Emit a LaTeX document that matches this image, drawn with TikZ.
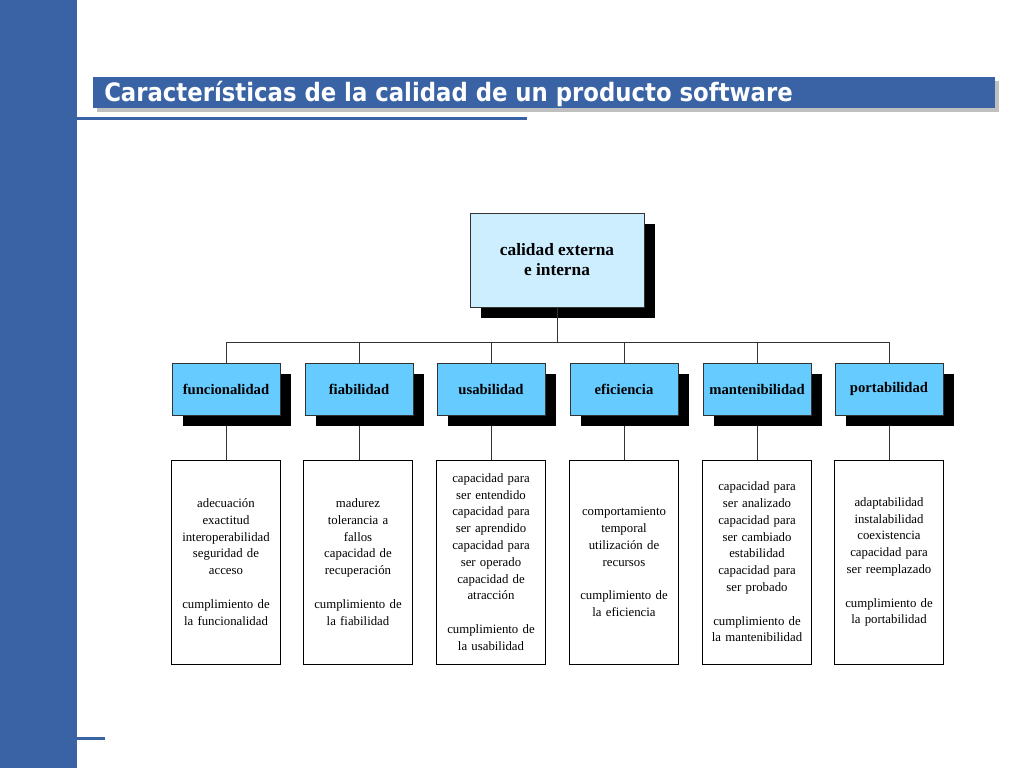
\documentclass[tikz,border=0pt]{standalone}
\usepackage{fontspec}
\setmainfont{Liberation Serif}
\newfontfamily\titlefont{DejaVu Sans Condensed}
\usetikzlibrary{positioning}
\definecolor{slideblue}{HTML}{3A63A6}
\definecolor{rootfill}{HTML}{CCEEFF}
\definecolor{catfill}{HTML}{66CCFF}
\tikzset{
  shadowed/.style={draw=black!80, line width=0.6pt,
    postaction={}},
  rootbox/.style={draw=black!80, fill=rootfill, minimum width=130.5pt, minimum height=70.5pt,
    font=\fontsize{13}{15}\selectfont\bfseries, align=center},
  catbox/.style={draw=black!80, fill=catfill, minimum width=81pt, minimum height=39pt,
    inner sep=0pt, font=\fontsize{11}{13}\selectfont\bfseries},
  detailbox/.style={draw=black, fill=white, minimum width=81.75pt, minimum height=153pt,
    text width=80pt, inner sep=0pt, align=center, font=\fontsize{9.6}{12.6}\selectfont},
  link/.style={draw=black!80, line width=0.6pt}
}
\begin{document}
\begin{tikzpicture}[x=0.75pt,y=-0.75pt]
\useasboundingbox (0,0) rectangle (1024,768);
% slide frame
\fill[slideblue] (0,0) rectangle (77,768);
\fill[black!25] (97,81) rectangle (999,112);
\fill[slideblue] (93,77) rectangle (995,108);
\node[anchor=west, text=white, inner sep=0pt, font=\titlefont\fontsize{19}{22}\selectfont\bfseries]
  (title) at (104,94) {Características de la calidad de un producto software};
\fill[slideblue] (77,116.5) rectangle (527,119.5);
\fill[slideblue] (77,737) rectangle (105,740);
% root
\fill[black] (481,224) rectangle (655,318);
\node[rootbox] (root) at (557,260) {calidad externa\\e interna};
\coordinate (bus) at (557,342);
\draw[link] (root.south) -- (bus);
% categories
\foreach \name/\lbl/\x in {fun/funcionalidad/226, fia/fiabilidad/359, usa/usabilidad/491,
    efi/eficiencia/624, man/mantenibilidad/757, por/portabilidad/889}{
  \draw[link] (\x,426) -- (\x,460);
  \fill[black] (\x-43,374) rectangle (\x+65,426);
  \node[catbox] (\name) at (\x,389) {\lbl};
  \draw[link] (\name.north) -- (\x,342);
}
\draw[link] (226,342) -- (889,342);
% details
\node[detailbox] (dfun) at (226,562) {adecuación\\exactitud\\interoperabilidad\\seguridad de\\acceso\\[12.6pt]cumplimiento de\\la funcionalidad};
\node[detailbox] (dfia) at (358,562) {madurez\\tolerancia a\\fallos\\capacidad de\\recuperación\\[12.6pt]cumplimiento de\\la fiabilidad};
\node[detailbox] (dusa) at (491,562) {capacidad para\\ser entendido\\capacidad para\\ser aprendido\\capacidad para\\ser operado\\capacidad de\\atracción\\[12.6pt]cumplimiento de\\la usabilidad};
\node[detailbox] (defi) at (624,562) {comportamiento\\temporal\\utilización de\\recursos\\[12.6pt]cumplimiento de\\la eficiencia};
\node[detailbox] (dman) at (757,562) {capacidad para\\ser analizado\\capacidad para\\ser cambiado\\estabilidad\\capacidad para\\ser probado\\[12.6pt]cumplimiento de\\la mantenibilidad};
\node[detailbox] (dpor) at (889,562) {adaptabilidad\\instalabilidad\\coexistencia\\capacidad para\\ser reemplazado\\[12.6pt]cumplimiento de\\la portabilidad};
\end{tikzpicture}
\end{document}
